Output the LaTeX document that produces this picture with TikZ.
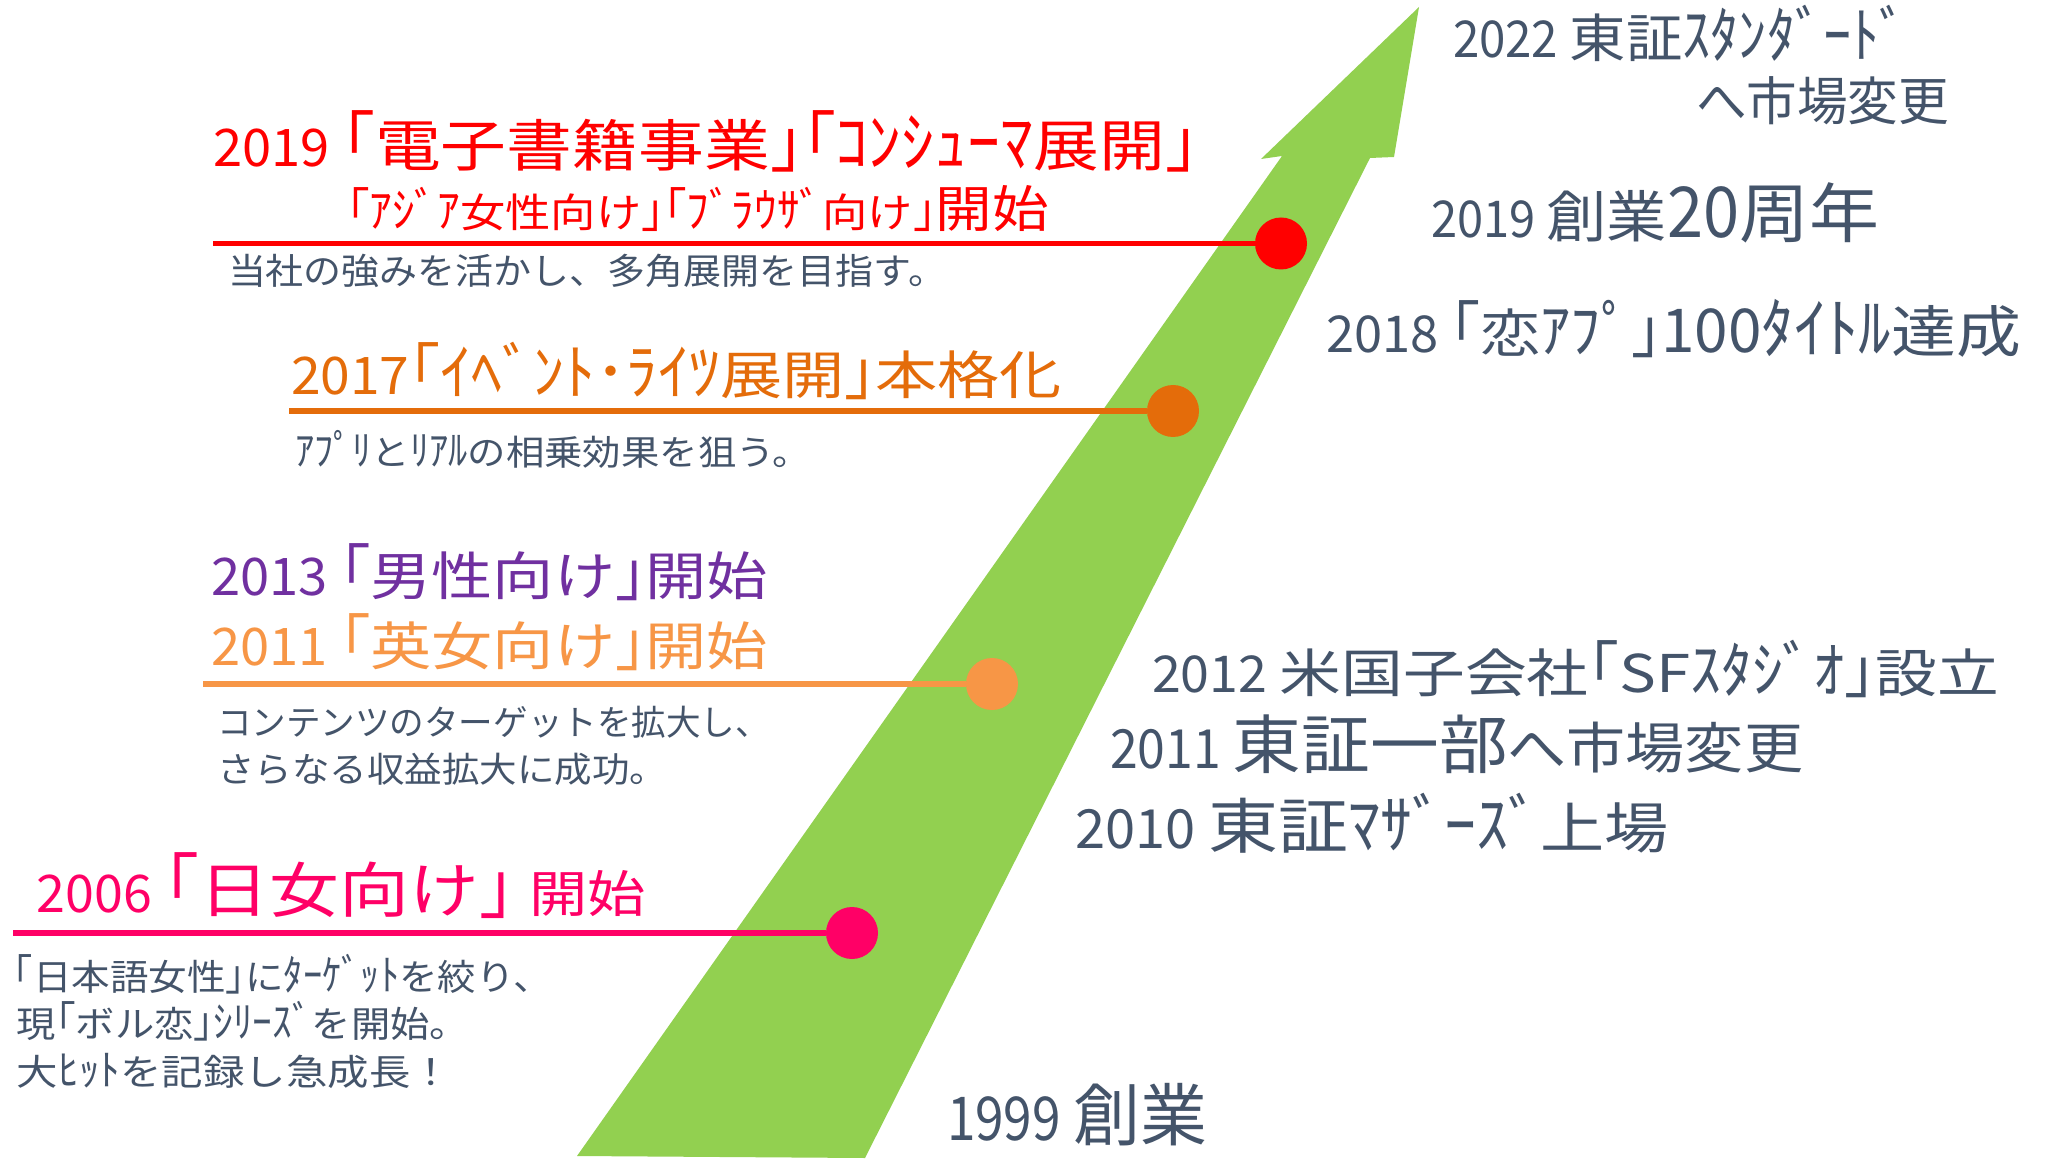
\documentclass[tikz,border=0pt]{standalone}
\usepackage{fontspec}
\usepackage{graphicx}
\setmainfont{Noto Sans CJK JP}
\newlength\pu
\setlength\pu{0.5pt}
\newcommand\fsz[1]{\fontsize{\fpeval{#1/2}}{\fpeval{#1*0.6}}\selectfont}
\newcommand\fitw[2]{\resizebox{#1\pu}{\height}{#2}}
\newcommand\hk[1]{\scalebox{1}[1.18]{#1}}
\newcommand\lb{\hk{｢}}
\newcommand\rb{\hk{｣}}
\newcommand\dg[1]{\scalebox{0.93}[1.08]{#1}}
\definecolor{slate}{HTML}{44546A}
\definecolor{agreen}{HTML}{92D050}
\definecolor{cred}{HTML}{FF0000}
\definecolor{corange}{HTML}{E46C0A}
\definecolor{clorange}{HTML}{F79646}
\definecolor{cpurple}{HTML}{7030A0}
\definecolor{cpink}{HTML}{FF0066}
\tikzset{
  txt/.style={anchor=base west, inner sep=0pt, outer sep=0pt},
  dot/.style={circle, inner sep=0pt, outer sep=0pt, minimum size=26pt},
  tline/.style={line width=2.75pt},
}
\begin{document}
\begin{tikzpicture}[x=0.5pt,y=-0.5pt]
\useasboundingbox (0,0) rectangle (2045,1160);
\fill[white] (0,0) rectangle (2045,1160);
% growth arrow
\fill[agreen] (577,1156) -- (1282,156) -- (1261,159) -- (1419,7) -- (1394,157)
  -- (1370,158) -- (865,1158) -- cycle;

% markers on the arrow
\node[dot, fill=cred] (d19) at (1281,243.5) {};
\node[dot, fill=corange] (d17) at (1173,411) {};
\node[dot, fill=clorange] (d11) at (992,684) {};
\node[dot, fill=cpink] (d06) at (852,933) {};
\coordinate (s19) at (213,243.5);
\coordinate (s17) at (289,411);
\coordinate (s11) at (203,684);
\coordinate (s06) at (13,933);
\draw[tline, cred] (s19) -- (d19.west);
\draw[tline, corange] (s17) -- (d17.west);
\draw[tline, clorange] (s11) -- (d11.west);
\draw[tline, cpink] (s06) -- (d06.west);

% right column (milestones)
\node[txt, slate] (r1) at (1453,58) {\fitw{455}{\fsz{47}\dg{2022} \fsz{52}東証\hk{ｽﾀﾝﾀﾞｰﾄﾞ}}};
\node[txt, slate] (r2) at (1696,121) {\fitw{253}{\fsz{52}へ市場変更}};
\node[txt, slate] (r3) at (1431,238) {\fitw{448}{\fsz{47}\dg{2019} \fsz{56}創業\fsz{65}\dg{20}周年}};
\node[txt, slate] (r4) at (1326,353) {\fitw{695}{\fsz{47}\dg{2018} \fsz{52}\lb 恋\hk{ｱﾌﾟ}\rb\fsz{56}\dg{100}\hk{ﾀｲﾄﾙ}達成}};
\node[txt, slate] (r5) at (1152,692) {\fitw{847}{\fsz{47}\dg{2012} \fsz{52}米国子会社\lb SF\hk{ｽﾀｼﾞｵ}\rb 設立}};
\node[txt, slate] (r6) at (1110,768) {\fitw{693}{\fsz{50}\dg{2011} \fsz{64}東証一部\fsz{55}へ市場変更}};
\node[txt, slate] (r7) at (1075,848) {\fitw{594}{\fsz{50}\dg{2010} \fsz{60}東証\fsz{55}\hk{ﾏｻﾞｰｽﾞ}上場}};
\node[txt, slate] (b1) at (947,1140) {\fitw{260}{\fsz{56}\dg{1999} \fsz{68}創業}};

% left column (business lines)
\node[txt, cred] (l1) at (213,167) {\fitw{985}{\fsz{48}\dg{2019} \fsz{56}\lb 電子書籍事業\rb\lb\hk{ｺﾝｼｭｰﾏ}展開\rb}};
\node[txt, cred] (l2) at (347,228) {\fitw{702}{\fsz{40}\lb\hk{ｱｼﾞｱ}女性向け\rb\lb\hk{ﾌﾞﾗｳｻﾞ}向け\rb\fsz{50}開始}};
\node[txt, slate] (l3) at (228,285) {\fitw{718}{\fsz{36}当社の強みを活かし、多角展開を目指す。}};
\node[txt, corange] (l4) at (291,395) {\fitw{771}{\fsz{48}\dg{2017}\fsz{52}\lb\hk{ｲﾍﾞﾝﾄ･ﾗｲﾂ}展開\rb 本格化}};
\node[txt, slate] (l5) at (295,466) {\fitw{516}{\fsz{35}\hk{ｱﾌﾟﾘ}と\hk{ﾘｱﾙ}の相乗効果を狙う。}};
\node[txt, cpurple] (l6) at (211,595) {\fitw{557}{\fsz{48}\dg{2013} \fsz{52}\lb 男性向け\rb 開始}};
\node[txt, clorange] (l7) at (211,665) {\fitw{557}{\fsz{48}\dg{2011} \fsz{52}\lb 英女向け\rb 開始}};
\node[txt, slate] (l8a) at (217,735) {\fitw{553}{\fsz{35}コンテンツのターゲットを拡大し、}};
\node[txt, slate] (l8b) at (217,782) {\fitw{450}{\fsz{35}さらなる収益拡大に成功。}};
\node[txt, cpink] (l9) at (37,912) {\fitw{609}{\fsz{48}\dg{2006} \fsz{60}\lb 日女向け\rb\ \fsz{50}開始}};
\node[txt, slate] (l10a) at (14,990) {\fitw{538}{\fsz{36}\lb 日本語女性\rb に\hk{ﾀｰｹﾞｯﾄ}を絞り、}};
\node[txt, slate] (l10b) at (17,1037) {\fitw{452}{\fsz{36}現\lb ボル恋\rb\hk{ｼﾘｰｽﾞ}を開始。}};
\node[txt, slate] (l10c) at (17,1085) {\fitw{435}{\fsz{36}大\hk{ﾋｯﾄ}を記録し急成長！}};
\end{tikzpicture}
\end{document}
